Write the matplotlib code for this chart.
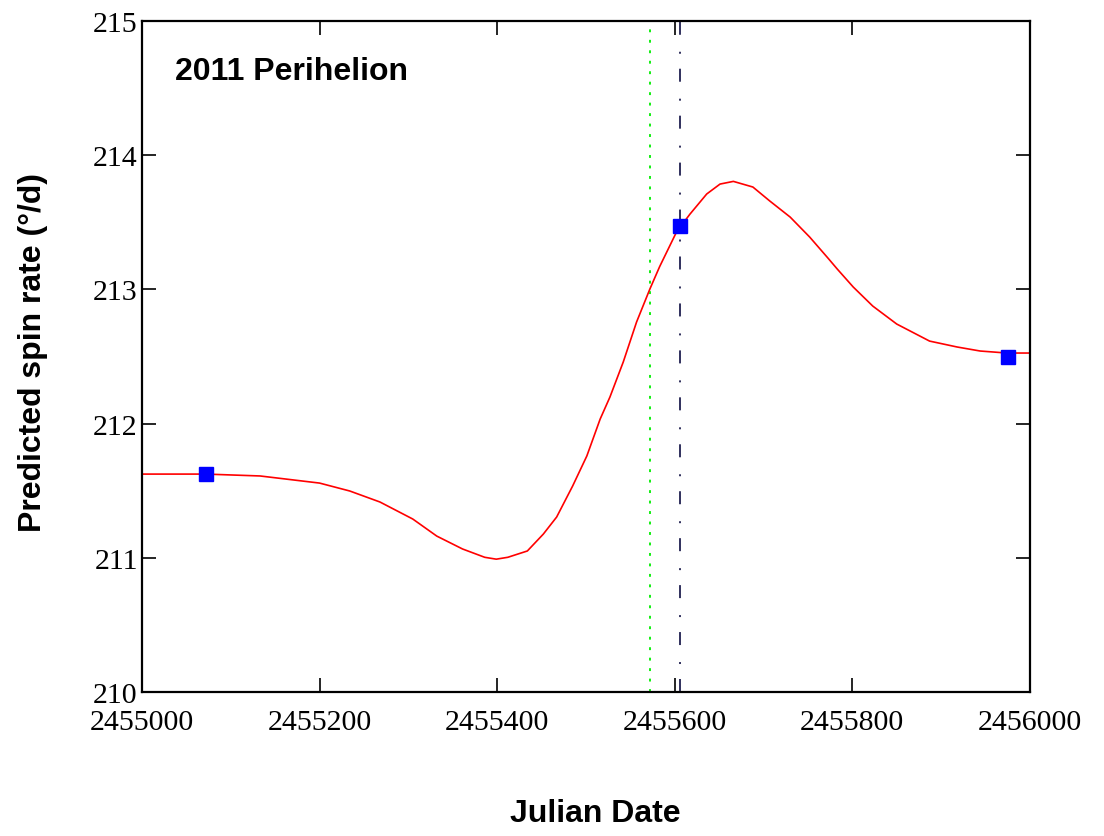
import numpy as np
import matplotlib
matplotlib.use("Agg")
import matplotlib.pyplot as plt

jd0 = 2455000
# predicted spin rate curve (days after JD 2455000, deg/day)
curve_days = [0, 72, 133, 200, 234, 268, 305, 332, 361, 386, 399, 412, 434, 452, 467,
              485, 501, 516, 527, 542, 557, 572, 583, 602, 617, 636, 651, 666,
              688, 707, 730, 752, 773, 783, 801, 823, 850, 887, 918, 944, 974, 1000]
curve_rate = [211.624, 211.624, 211.61, 211.557, 211.498, 211.416, 211.289, 211.162,
              211.066, 211.004, 210.99, 211.004, 211.051, 211.177, 211.304, 211.535, 211.759,
              212.034, 212.198, 212.459, 212.757, 213.003, 213.17, 213.428, 213.56,
              213.711, 213.785, 213.805, 213.763, 213.659, 213.539, 213.390, 213.23,
              213.152, 213.018, 212.876, 212.742, 212.615, 212.571, 212.541, 212.526,
              212.526]
# observed points
obs_days = [72, 606, 975]
obs_rate = [211.624, 213.472, 212.50]
# vertical markers
perihelion_day = 572.5
other_day = 606

x_curve = np.array(curve_days) + jd0
x_obs = np.array(obs_days) + jd0

fig = plt.figure(figsize=(11.04, 8.37), dpi=100)
ax = fig.add_axes([0.1286, 0.172, 0.8043, 0.8017])

ax.axvline(jd0 + perihelion_day, color="#00ee00", linestyle=(0, (1.6, 4.2)), linewidth=1.3)
ax.axvline(jd0 + other_day, color="#202050", linestyle=(0, (7.2, 8.3, 1.1, 9.4)), linewidth=1.3)
ax.plot(x_curve, curve_rate, color="red", linewidth=1.2)
ax.plot(x_obs, obs_rate, linestyle="none", marker="s", markersize=10,
        color="#0000ff", markeredgecolor="#0000ff")

ax.set_xlim(2455000, 2456000)
ax.set_ylim(210, 215)
ax.set_xticks(np.arange(2455000, 2456001, 200))
ax.set_yticks(np.arange(210, 216, 1))
ax.ticklabel_format(useOffset=False, style="plain")

for lab in ax.get_xticklabels() + ax.get_yticklabels():
    lab.set_fontfamily("Liberation Serif")
    lab.set_fontsize(21.5)
ax.tick_params(direction="in", length=10, width=1.2, top=True, right=True)
ax.tick_params(axis="x", pad=12.5)
ax.tick_params(axis="y", pad=3)
for s in ax.spines.values():
    s.set_linewidth(1.6)

ax.set_xlabel("Julian Date", fontfamily="Liberation Sans", fontweight="bold",
              fontsize=23)
ax.xaxis.set_label_coords(0.51, -0.158)
ax.set_ylabel("Predicted spin rate (\u00b0/d)", fontfamily="Liberation Sans",
              fontweight="bold", fontsize=23)
ax.yaxis.set_label_coords(-0.106, 0.508)
ax.text(0.037, 0.925, "2011 Perihelion", transform=ax.transAxes,
        fontfamily="Liberation Sans", fontweight="bold", fontsize=23, va="center")

fig.savefig("out.png", dpi=100)
